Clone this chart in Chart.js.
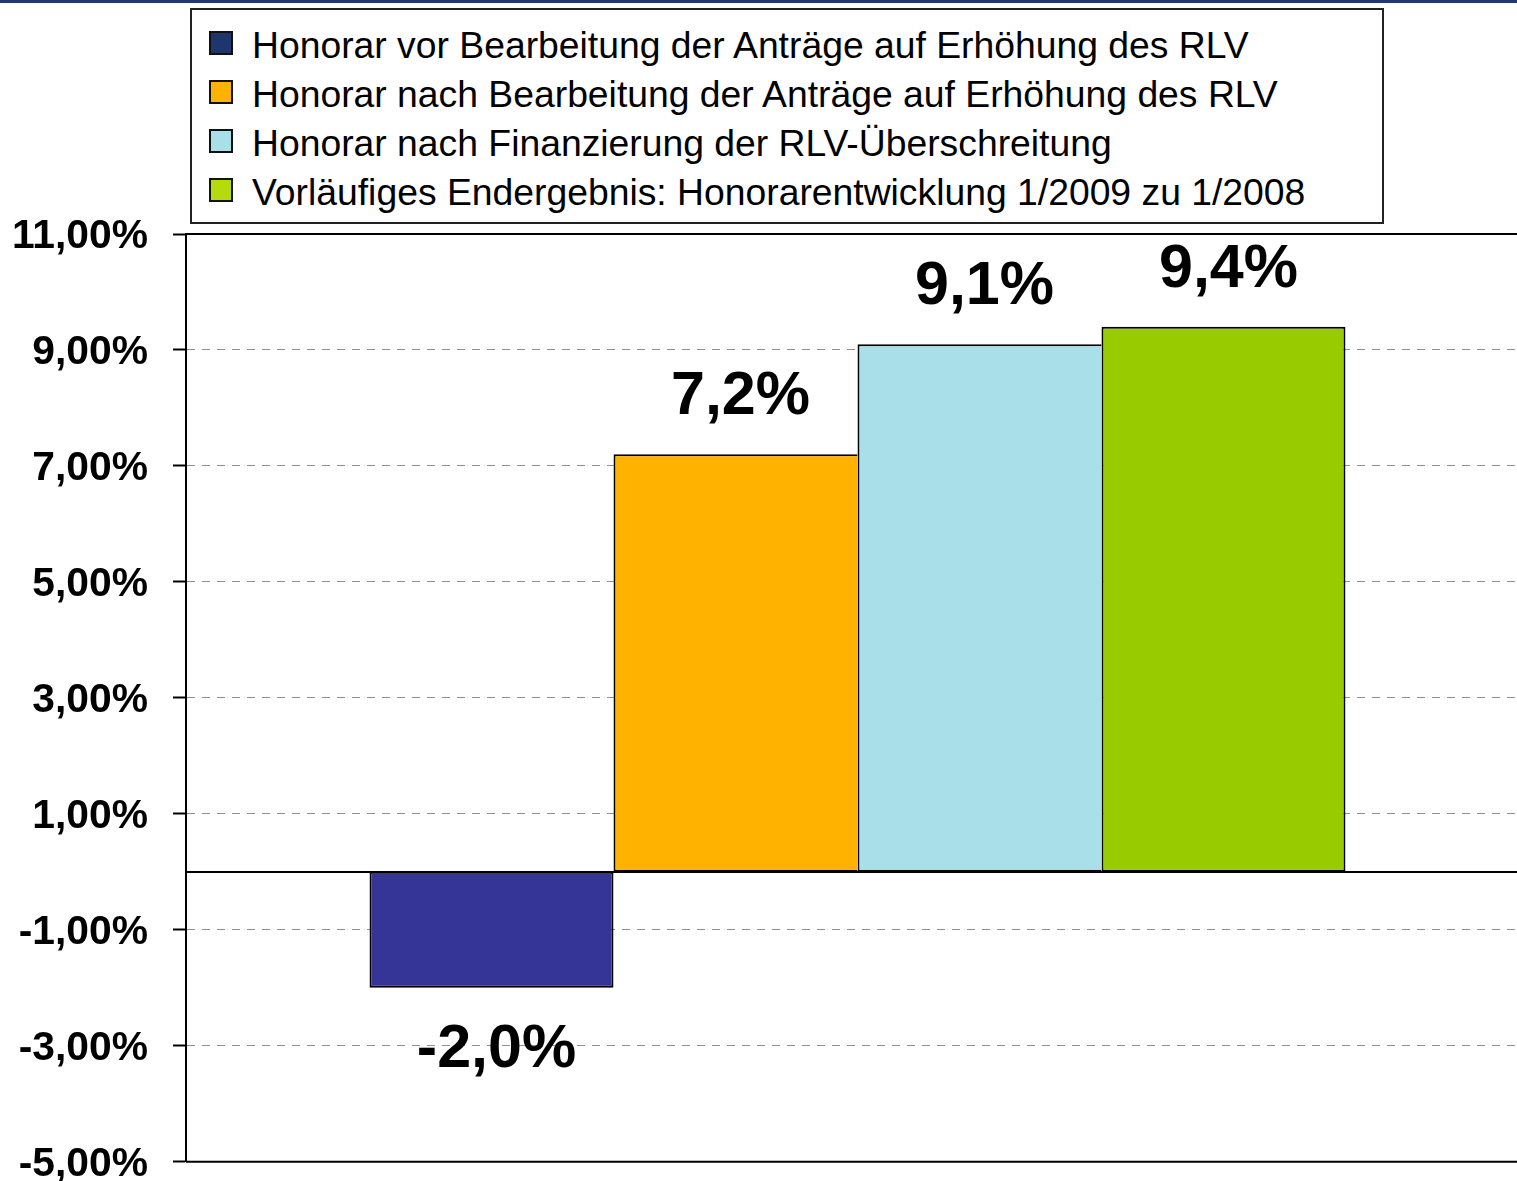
<!DOCTYPE html>
<html lang="de">
<head>
<meta charset="utf-8">
<title>Honorarentwicklung 1/2009 zu 1/2008</title>
<script src="https://cdn.jsdelivr.net/npm/chart.js@4.4.1/dist/chart.umd.min.js"></script>
<style>
  html, body { margin: 0; padding: 0; background: #fff; overflow: hidden; }
  #wrap { position: relative; width: 1517px; height: 1181px; overflow: hidden; }
  #chart { position: absolute; left: 0; top: 0; }
  #topbar { position: absolute; left: 0; top: 0; width: 1517px; height: 3px; background: #1f3a70; }
  #legend {
    position: absolute; left: 190px; top: 8px; width: 1194px; height: 216px;
    box-sizing: border-box; border: 2px solid #222; padding: 11px 0 0 17px;
    font: 37.3px 'Liberation Sans', Arial, sans-serif; color: #000; background: #fff;
  }
  .item { display: flex; align-items: center; height: 49px; line-height: 49px; white-space: nowrap; }
  .swatch { width: 24px; height: 24px; box-sizing: border-box; border: 2px solid #111; margin-right: 19px; position: relative; top: -3px; flex: none; }
</style>
</head>
<body>
<div id="wrap">
  <!-- canvas is a bit larger than the window; the overflow is cut off like in the source slide -->
  <canvas id="chart" width="1529" height="1205"></canvas>
  <div id="topbar"></div>
  <div id="legend"></div>
</div>
<script>
// data
const categories = ['1/2009 zu 1/2008'];
const seriesLabels = [
  'Honorar vor Bearbeitung der Anträge auf Erhöhung des RLV',
  'Honorar nach Bearbeitung der Anträge auf Erhöhung des RLV',
  'Honorar nach Finanzierung der RLV-Überschreitung',
  'Vorläufiges Endergebnis: Honorarentwicklung 1/2009 zu 1/2008'
];
const seriesValues = [-2.0, 7.2, 9.1, 9.4];
const yMin = -5;
const yMax = 11;
const yStep = 2;

const barColors = ['#353598', '#ffb300', '#a9dfe9', '#99cc00'];
const legendColors = ['#1f356e', '#ffb300', '#a9dfe9', '#b5db0c'];
const FONT = "'Liberation Sans', Arial, sans-serif";

const fmt = (v, d) => v.toFixed(d).replace('.', ',') + '%';

// solid frame lines + zero line
const frameLines = {
  id: 'frameLines',
  beforeDatasetsDraw(chart) {
    const { ctx, chartArea: a, scales: { y } } = chart;
    const y0 = Math.round(y.getPixelForValue(0));
    ctx.save();
    ctx.strokeStyle = '#000';
    ctx.lineWidth = 2;
    ctx.beginPath();
    ctx.moveTo(a.left, y0); ctx.lineTo(a.right, y0);
    ctx.moveTo(a.left, a.top); ctx.lineTo(a.right, a.top);
    ctx.moveTo(a.left, a.bottom); ctx.lineTo(a.right, a.bottom);
    ctx.stroke();
    ctx.restore();
  }
};

// big percentage labels above / below the bars
const valueLabels = {
  id: 'valueLabels',
  afterDatasetsDraw(chart) {
    const { ctx } = chart;
    ctx.save();
    ctx.font = 'bold 61px ' + FONT;
    ctx.fillStyle = '#000';
    ctx.textAlign = 'center';
    ctx.textBaseline = 'alphabetic';
    chart.data.datasets.forEach((ds, i) => {
      const bar = chart.getDatasetMeta(i).data[0];
      const v = ds.data[0];
      const yPos = v >= 0 ? bar.y - 40 : bar.y + 79;
      ctx.fillText(fmt(v, 1), bar.x + 5, yPos);
    });
    ctx.restore();
  }
};

const datasets = seriesLabels.map((label, i) => ({
  label,
  data: [seriesValues[i]],
  backgroundColor: barColors[i],
  borderColor: '#000',
  borderWidth: { top: 2, bottom: 2, left: 2, right: (i === 0 || i === seriesLabels.length - 1) ? 2 : 0 },
  borderSkipped: false,
  categoryPercentage: 0.7267,
  barPercentage: 1.0
}));

new Chart(document.getElementById('chart'), {
  type: 'bar',
  data: { labels: categories, datasets },
  options: {
    responsive: false,
    animation: false,
    layout: { padding: { top: 234, bottom: 19, left: 0, right: 0 } },
    plugins: {
      legend: { display: false },
      tooltip: { enabled: false }
    },
    scales: {
      x: { display: false },
      y: {
        min: yMin,
        max: yMax,
        ticks: {
          stepSize: yStep,
          color: '#000',
          padding: 25,
          labelOffset: 3,
          font: { family: FONT, size: 40.8, weight: 'bold', lineHeight: 0.9 },
          callback: v => fmt(v, 2)
        },
        grid: { color: '#909090', lineWidth: 1, tickLength: 13, tickColor: '#000', tickWidth: 2 },
        border: { display: true, color: '#000', width: 2, dash: [8, 7] },
        afterFit(scale) { scale.width = 186; }
      }
    }
  },
  plugins: [frameLines, valueLabels]
});

// legend box
const legendEl = document.getElementById('legend');
seriesLabels.forEach((label, i) => {
  const row = document.createElement('div');
  row.className = 'item';
  const sw = document.createElement('span');
  sw.className = 'swatch';
  sw.style.background = legendColors[i];
  const txt = document.createElement('span');
  txt.textContent = label;
  row.appendChild(sw);
  row.appendChild(txt);
  legendEl.appendChild(row);
});
</script>
</body>
</html>
